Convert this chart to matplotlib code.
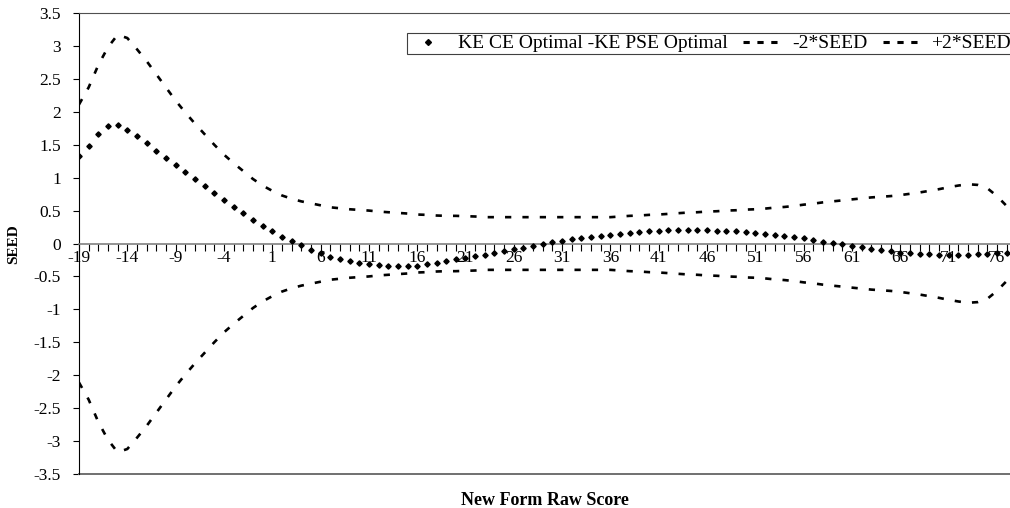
import numpy as np
import matplotlib
matplotlib.use("Agg")
import matplotlib.pyplot as plt
from matplotlib.lines import Line2D
from matplotlib.ticker import FuncFormatter

plt.rcParams['font.family'] = ['Liberation Serif', 'DejaVu Serif']
plt.rcParams['lines.scale_dashes'] = False

# new form raw score categories
scores = list(range(-19, 78))

# KE CE Optimal - KE PSE Optimal
diff = [1.33, 1.485, 1.67, 1.79, 1.80, 1.73, 1.63, 1.52, 1.41, 1.30,
        1.19, 1.08, 0.975, 0.87, 0.76, 0.655, 0.555, 0.46, 0.36, 0.27,
        0.19, 0.105, 0.035, -0.03, -0.10, -0.15, -0.20, -0.235, -0.27, -0.295,
        -0.315, -0.33, -0.34, -0.345, -0.345, -0.335, -0.315, -0.29, -0.26, -0.235,
        -0.215, -0.19, -0.17, -0.15, -0.115, -0.09, -0.065, -0.04, -0.015, 0.02,
        0.04, 0.065, 0.085, 0.094, 0.114, 0.133, 0.15, 0.165, 0.175, 0.185,
        0.195, 0.20, 0.205, 0.205, 0.205, 0.20, 0.195, 0.19, 0.185, 0.175,
        0.165, 0.15, 0.133, 0.118, 0.10, 0.078, 0.053, 0.028, 0.008, -0.012,
        -0.038, -0.058, -0.078, -0.094, -0.114, -0.139, -0.149, -0.154, -0.164, -0.17,
        -0.174, -0.174, -0.17, -0.164, -0.154, -0.144, -0.139]

# +2*SEED
upper = [2.11, 2.37, 2.71, 2.98, 3.17, 3.12, 2.95, 2.77, 2.57, 2.37,
         2.17, 1.99, 1.82, 1.66, 1.50, 1.35, 1.22, 1.10, 0.98, 0.88,
         0.80, 0.73, 0.68, 0.64, 0.61, 0.58, 0.55, 0.535, 0.52, 0.51,
         0.50, 0.485, 0.475, 0.465, 0.455, 0.44, 0.435, 0.425, 0.42, 0.42,
         0.415, 0.41, 0.40, 0.40, 0.40, 0.40, 0.40, 0.40, 0.40, 0.40,
         0.40, 0.40, 0.40, 0.40, 0.40, 0.40, 0.41, 0.42, 0.425, 0.435,
         0.44, 0.45, 0.46, 0.47, 0.475, 0.485, 0.49, 0.50, 0.505, 0.515,
         0.52, 0.53, 0.545, 0.555, 0.57, 0.59, 0.605, 0.625, 0.64, 0.655,
         0.67, 0.685, 0.70, 0.71, 0.72, 0.735, 0.755, 0.775, 0.80, 0.825,
         0.855, 0.88, 0.90, 0.89, 0.84, 0.72, 0.57]

# -2*SEED
lower = [-2.11, -2.37, -2.71, -2.98, -3.17, -3.12, -2.95, -2.77, -2.57, -2.37,
         -2.17, -1.99, -1.82, -1.66, -1.50, -1.35, -1.22, -1.10, -0.98, -0.88,
         -0.80, -0.73, -0.68, -0.64, -0.61, -0.58, -0.55, -0.535, -0.52, -0.51,
         -0.50, -0.485, -0.475, -0.465, -0.455, -0.44, -0.435, -0.425, -0.42, -0.42,
         -0.415, -0.41, -0.40, -0.40, -0.40, -0.40, -0.40, -0.40, -0.40, -0.40,
         -0.40, -0.40, -0.40, -0.40, -0.40, -0.40, -0.41, -0.42, -0.425, -0.435,
         -0.44, -0.45, -0.46, -0.47, -0.475, -0.485, -0.49, -0.50, -0.505, -0.515,
         -0.52, -0.53, -0.545, -0.555, -0.57, -0.59, -0.605, -0.625, -0.64, -0.655,
         -0.67, -0.685, -0.70, -0.71, -0.72, -0.735, -0.755, -0.775, -0.80, -0.825,
         -0.855, -0.88, -0.90, -0.89, -0.84, -0.72, -0.57]

xtick_labels = [-19, -14, -9, -4, 1, 6, 11, 16, 21, 26, 31, 36, 41, 46, 51, 56, 61, 66, 71, 76]
yticks = [-3.5, -3, -2.5, -2, -1.5, -1, -0.5, 0, 0.5, 1, 1.5, 2, 2.5, 3, 3.5]

fig = plt.figure(figsize=(10.1, 5.08), dpi=100)
ax = fig.add_axes([0.0782, 0.0669, 0.9218, 0.9075])

dash = (4.5, 8)
ax.plot(scores, lower, color='k', lw=1.9, dashes=dash, zorder=3)
ax.plot(scores, upper, color='k', lw=1.9, dashes=dash, zorder=3)
ax.plot(scores, diff, ls='none', marker='D', ms=2.7, color='k', zorder=4)

ax.set_xlim(-19, 77.35)
ax.set_ylim(-3.5, 3.5)

# x axis crosses at zero, like the spreadsheet chart
ax.spines['bottom'].set_position(('data', 0))
ax.spines['bottom'].set_color('#808080')
ax.spines['bottom'].set_linewidth(1.2)
ax.spines['right'].set_visible(False)
ax.spines['top'].set_color('#505050')
ax.spines['left'].set_color('k')
ax.plot([0, 1], [0, 0], transform=ax.transAxes, color='#707070', lw=1.4, clip_on=False)

ax.set_xticks(xtick_labels)
ax.set_xticklabels([str(v) for v in xtick_labels])
ax.set_xticks(scores, minor=True)
ax.tick_params(axis='x', which='both', direction='out', length=5, width=0.8, color='k',
               labelsize=12.5, pad=0)
ax.set_yticks(yticks)
ax.yaxis.set_major_formatter(FuncFormatter(lambda v, p: f"{v:g}"))
ax.tick_params(axis='y', direction='out', length=4, width=0.8, labelsize=12.5, pad=9)

fig.text(0.54, 0.014, "New Form Raw Score", ha='center', va='center', fontsize=13, fontweight='bold')
fig.text(0.014, 0.52, "SEED", ha='center', va='center', rotation=90, fontsize=11, fontweight='bold')

handles = [Line2D([], [], ls='none', marker='D', ms=3, color='k'),
           Line2D([], [], color='k', lw=2.2, dashes=(4.5, 5.5)),
           Line2D([], [], color='k', lw=2.2, dashes=(4.5, 5.5))]
leg = ax.legend(handles, ["KE CE Optimal -KE PSE Optimal", "-2*SEED", "+2*SEED"],
                ncol=3, loc='upper right', bbox_to_anchor=(1.003, 0.957), fontsize=14,
                frameon=True, fancybox=False, framealpha=1, edgecolor='#404040',
                handlelength=1.9, handletextpad=0.6, columnspacing=0.8, borderpad=0.1,
                borderaxespad=0)
leg.get_frame().set_linewidth(0.8)

fig.savefig("out.png", dpi=100)
